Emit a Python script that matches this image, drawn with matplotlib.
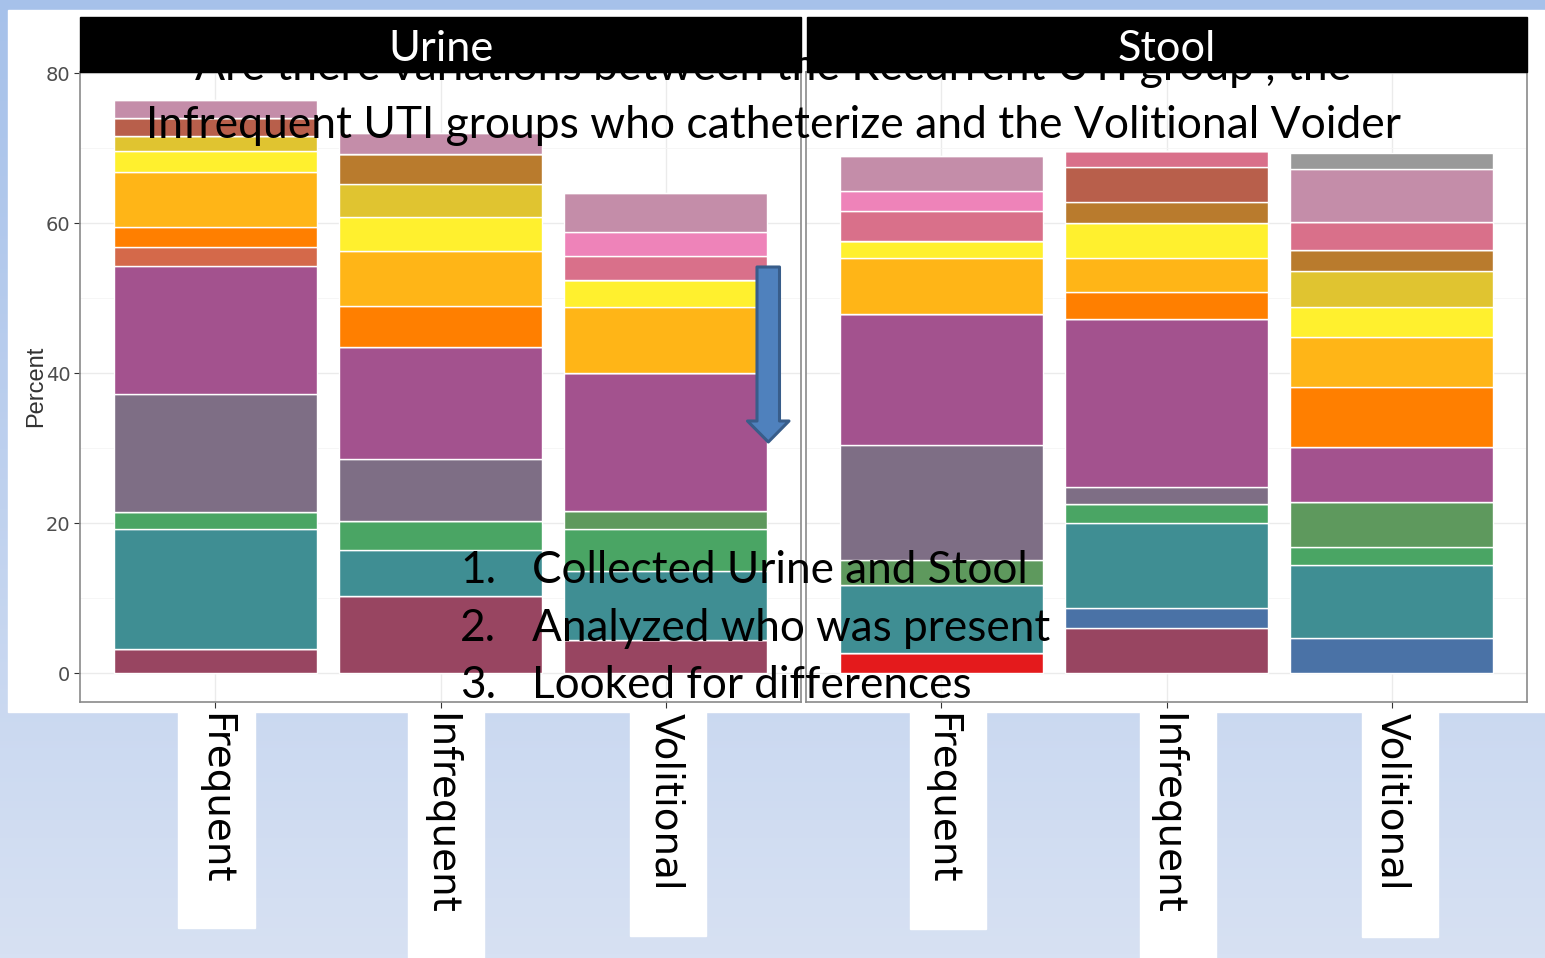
import numpy as np
import matplotlib
matplotlib.use("Agg")
import matplotlib.pyplot as plt
from matplotlib.patches import Rectangle, Polygon
from matplotlib.colors import LinearSegmentedColormap

# ---- data (percent per taxon, stacked bottom -> top) ----
groups = ["Frequent", "Infrequent", "Volitional"]
facets = ["Urine", "Stool"]

taxon_colors = [
    "#E41A1C", "#984561", "#4A72A6", "#3F8E93", "#4AA564", "#5E995D",
    "#7E6E85", "#A3528E", "#D4694A", "#FF7F00", "#FFB517", "#FFF02E",
    "#E0C430", "#B97B2D", "#B85F4B", "#D9708A", "#EE83B9", "#C48DA9",
    "#999999",
]

# rows = taxa, columns = Frequent, Infrequent, Volitional
urine_pct = [
    [0, 0, 0],
    [3.2, 10.3, 4.5],
    [0, 0, 0],
    [16.0, 6.2, 9.2],
    [2.3, 3.8, 5.5],
    [0, 0, 2.5],
    [15.8, 8.3, 0],
    [17.0, 14.9, 18.3],
    [2.6, 0, 0],
    [2.6, 5.5, 0],
    [7.3, 7.3, 8.9],
    [2.8, 4.5, 3.5],
    [2.0, 4.5, 0],
    [0, 3.9, 0],
    [2.4, 0, 0],
    [0, 0, 3.2],
    [0, 0, 3.2],
    [2.4, 2.8, 5.2],
    [0, 0, 0],
]

stool_pct = [
    [2.7, 0, 0],
    [0, 6.0, 0],
    [0, 2.7, 4.75],
    [9.1, 11.4, 9.65],
    [0, 2.5, 2.4],
    [3.3, 0, 6.0],
    [15.3, 2.2, 0],
    [17.5, 22.4, 7.4],
    [0, 0, 0],
    [0, 3.6, 8.0],
    [7.5, 4.6, 6.6],
    [2.3, 4.6, 4.0],
    [0, 0, 4.8],
    [0, 2.9, 2.9],
    [0, 4.6, 0],
    [4.0, 2.1, 3.7],
    [2.6, 0, 0],
    [4.7, 0, 7.1],
    [0, 0, 2.1],
]

yticks = [0, 20, 40, 60, 80]

title_lines = ["Are there variations between the Recurrent UTI group , the",
               "Infrequent UTI groups who catheterize and the Volitional Voider"]
steps = ["Collected Urine and Stool", "Analyzed who was present", "Looked for differences"]

# ---- figure ----
W, H = 1545, 958
fig = plt.figure(figsize=(W / 100, H / 100), dpi=100)


def fx(x):
    return x / W


def fy(y):
    return 1 - y / H


# slide background
bg = fig.add_axes([0, 0, 1, 1], zorder=-10)
cmap = LinearSegmentedColormap.from_list("bg", ["#A6C1EA", "#D7E1F3"])
bg.imshow(np.linspace(0, 1, 256).reshape(-1, 1), cmap=cmap, aspect="auto",
          extent=[0, 1, 0, 1])
bg.axis("off")

fig.add_artist(Rectangle((fx(8), fy(712)), fx(1545) - fx(8), fy(10) - fy(712),
                         transform=fig.transFigure, color="white", zorder=-5))
for x0, x1, y1 in [(178, 255, 928), (408, 484, 958), (630, 706, 936),
                   (910, 986, 929), (1140, 1216, 958), (1362, 1438, 937)]:
    fig.add_artist(Rectangle((fx(x0), fy(y1)), fx(x1) - fx(x0), fy(712) - fy(y1),
                             transform=fig.transFigure, color="white", zorder=-5))

ax_u = fig.add_axes([fx(80), fy(702), (801 - 80) / W, (702 - 72) / H])
ax_s = fig.add_axes([fx(806), fy(702), (1527 - 806) / W, (702 - 72) / H])

x = np.arange(1, len(groups) + 1)
for ax, data in [(ax_u, urine_pct), (ax_s, stool_pct)]:
    vals = np.array(data, dtype=float)
    bottom = np.zeros(len(groups))
    for i, row in enumerate(vals):
        ax.bar(x, row, width=0.9, bottom=bottom, color=taxon_colors[i],
               edgecolor="white", linewidth=1.0, zorder=2)
        bottom += row
    ax.set_xlim(0.4, 3.6)
    ax.set_ylim(-3.82, 80.2)
    ax.set_facecolor("white")
    ax.set_yticks(yticks)
    ax.set_yticks([10, 30, 50, 70], minor=True)
    ax.set_xticks(x)
    ax.set_xticklabels(groups, rotation=-90, fontsize=28, family="DejaVu Sans",
                       ha="center", va="top")
    ax.grid(True, which="major", color="#EBEBEB", linewidth=1.0, zorder=0)
    ax.grid(True, which="minor", axis="y", color="#F5F5F5", linewidth=0.6, zorder=0)
    ax.set_axisbelow(True)
    ax.tick_params(axis="x", length=4, color="#333333", pad=4)
    ax.tick_params(axis="y", which="minor", length=0)
    for s in ax.spines.values():
        s.set_color("#8A8A8A")
        s.set_linewidth(1.2)

ax_u.tick_params(axis="y", length=4, color="#333333", pad=3)
ax_u.set_yticklabels([str(v) for v in yticks], fontsize=14, color="#4D4D4D",
                     family=["Liberation Sans Narrow", "DejaVu Sans"])
ax_s.tick_params(axis="y", which="both", length=0, labelleft=False)

fig.text(fx(36), fy(386), "Percent", rotation=90, ha="center", va="center",
         fontsize=17, color="#333333", family="Liberation Sans")

renderer = fig.canvas.get_renderer()


def fit_width(t, target):
    w = t.get_window_extent(renderer).width
    t.set_fontsize(t.get_fontsize() * target / w)


# facet strips
for (x0, x1), name, wtxt in [((80, 801), facets[0], 105), ((807, 1527), facets[1], 98)]:
    fig.add_artist(Rectangle((fx(x0), fy(72)), fx(x1) - fx(x0), fy(17) - fy(72),
                             transform=fig.transFigure, color="black", zorder=5))
    t = fig.text(fx((x0 + x1) / 2), fy(61), name, ha="center", va="baseline",
                 color="white", fontsize=30, family="Lato", zorder=6)
    fit_width(t, wtxt)

# slide title overlaid on the chart
t1 = fig.text(fx(773), fy(80), title_lines[0], ha="center", va="baseline",
              fontsize=30, family="Lato", color="black", zorder=3)
fit_width(t1, 1154)
t2 = fig.text(fx(773), fy(138), title_lines[1], ha="center", va="baseline",
              fontsize=30, family="Lato", color="black", zorder=3)
fit_width(t2, 1253)

# numbered list
probe = fig.text(0, 0, steps[1], fontsize=30, family="Lato")
fit_width(probe, 518)
list_size = probe.get_fontsize()
probe.remove()
for k, (s, yb) in enumerate(zip(steps, [583, 641, 698])):
    fig.text(fx(460), fy(yb), f"{k + 1}.", ha="left", va="baseline",
             fontsize=list_size, family="Lato", zorder=3)
    fig.text(fx(532), fy(yb), s, ha="left", va="baseline",
             fontsize=list_size, family="Lato", zorder=3)

# down arrow
arrow_px = [(757, 267), (779.5, 267), (779.5, 421), (789, 421), (768.3, 442),
            (747.5, 421), (757, 421)]
fig.add_artist(Polygon([(fx(a), fy(b)) for a, b in arrow_px], closed=True,
                       transform=fig.transFigure, facecolor="#4F81BD",
                       edgecolor="#385D8A", linewidth=2.2, joinstyle="round",
                       zorder=4))

fig.savefig("out.png", dpi=100)
